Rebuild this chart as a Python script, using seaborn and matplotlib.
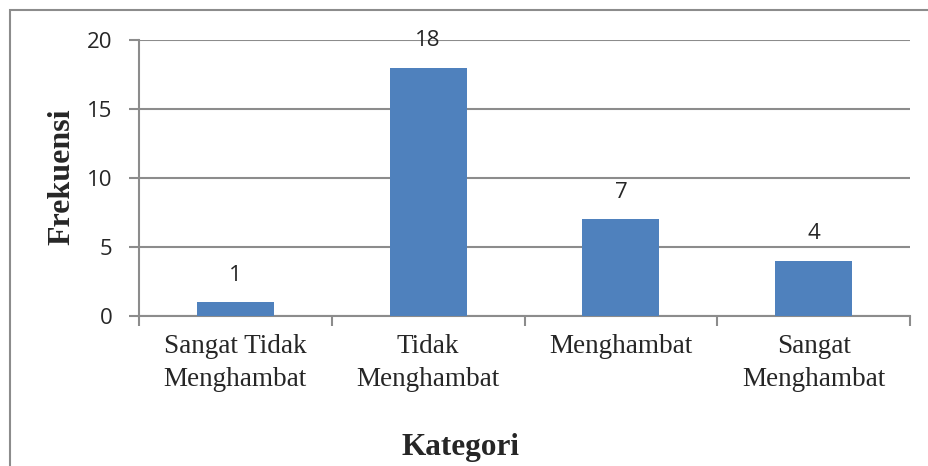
import matplotlib
matplotlib.use("Agg")
import matplotlib.pyplot as plt
import seaborn as sns
import pandas as pd
from matplotlib.patches import Rectangle

# data
categories = ["Sangat Tidak\nMenghambat", "Tidak\nMenghambat", "Menghambat", "Sangat\nMenghambat"]
frekuensi = [1, 18, 7, 4]
y_ticks = [0, 5, 10, 15, 20]

df = pd.DataFrame({"Kategori": categories, "Frekuensi": frekuensi})

sns.set_style("white")
grid_col = "#8c8c8c"

fig = plt.figure(figsize=(9.29, 4.66), dpi=100)
ax = fig.add_axes([139 / 929, 1 - 316 / 466, (910 - 139) / 929, (316 - 40) / 466])

sns.barplot(data=df, x="Kategori", y="Frekuensi", color="#4F81BD", width=0.4,
            saturation=1, linewidth=0, ax=ax, zorder=3)

ax.set_ylim(0, 20)
ax.set_xlim(-0.5, 3.5)
ax.set_yticks(y_ticks)
ax.set_yticklabels([str(t) for t in y_ticks], fontsize=16, family="Open Sans")
ax.set_xticks(range(len(categories)))
ax.set_xticklabels(categories, fontsize=19.5, family="Liberation Serif", linespacing=1.4)
ax.set_xticks([-0.5, 0.5, 1.5, 2.5, 3.5], minor=True)
ax.tick_params(axis="x", which="major", length=0, pad=13)
ax.tick_params(axis="x", which="minor", length=7, width=1.5, color=grid_col, direction="out", bottom=True)
ax.tick_params(axis="y", length=7, width=1.5, color=grid_col, direction="out", left=True, pad=12)

ax.grid(axis="y", color=grid_col, linewidth=1.5, zorder=0)
ax.set_axisbelow(True)
for s in ["top", "right"]:
    ax.spines[s].set_visible(False)
for s in ["left", "bottom"]:
    ax.spines[s].set_color(grid_col)
    ax.spines[s].set_linewidth(1.5)

# value labels above bars
for i, v in enumerate(frekuensi):
    ax.text(i, v + 1.95, str(v), ha="center", va="center", fontsize=16, family="Open Sans")

ax.set_xlabel("Kategori", fontsize=22.5, family="Liberation Serif", fontweight="bold")
ax.xaxis.label.set_va("baseline")
ax.xaxis.set_label_coords((461 - 139) / (910 - 139), (316 - 455) / (316 - 40), transform=ax.transAxes)
ax.set_ylabel("Frekuensi", fontsize=23, family="Liberation Serif", fontweight="bold")
ax.yaxis.label.set_va("center")
ax.yaxis.set_label_coords((62 - 139) / (910 - 139), 1 - (177 - 40) / (316 - 40), transform=ax.transAxes)

# outer chart frame (extends past the right and bottom edges)
fig.patches.append(Rectangle((10 / 929, -0.1), 1.2, 1 - 10 / 466 + 0.1, transform=fig.transFigure,
                             fill=False, edgecolor="#8c8c8c", linewidth=1.5))

fig.savefig("out.png", dpi=100)
